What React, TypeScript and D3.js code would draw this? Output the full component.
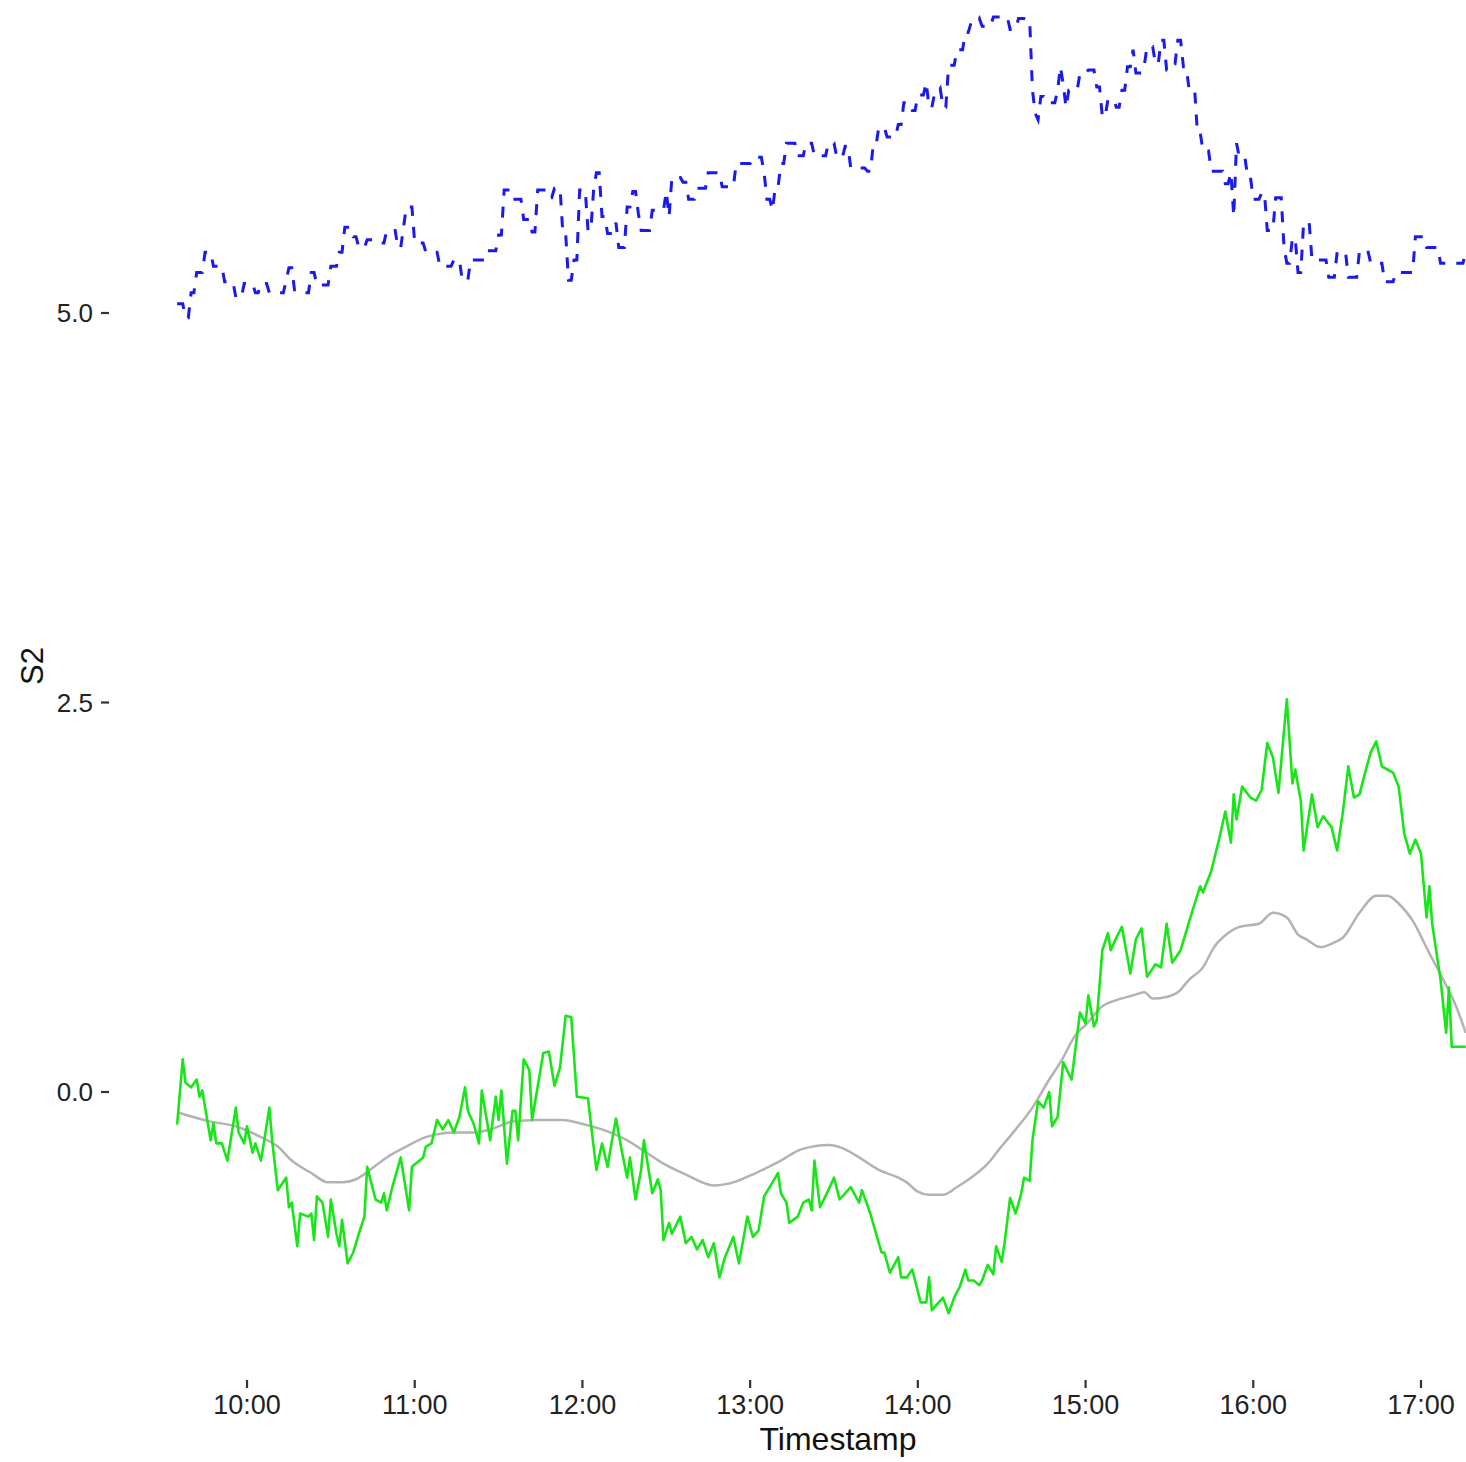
import React, { useEffect, useRef } from "react";
import * as d3 from "d3";

// blue dashed series (time, S2)
const blueSeries: [string, number][] = [
  ["09:35", 5.06], ["09:38", 4.97], ["09:40", 5.13], ["09:42", 5.26], ["09:45", 5.39], ["09:48", 5.3],
  ["09:52", 5.2], ["09:56", 5.1], ["09:59", 5.19], ["10:03", 5.13], ["10:05", 5.19], ["10:08", 5.13],
  ["10:14", 5.21], ["10:15", 5.29], ["10:17", 5.15], ["10:20", 5.13], ["10:23", 5.26], ["10:25", 5.18],
  ["10:30", 5.3], ["10:33", 5.39], ["10:35", 5.55], ["10:38", 5.49], ["10:40", 5.42], ["10:43", 5.47],
  ["10:46", 5.45], ["10:50", 5.53], ["10:54", 5.42], ["10:56", 5.55], ["10:57", 5.68], ["11:00", 5.45],
  ["11:04", 5.39], ["11:09", 5.3], ["11:14", 5.34], ["11:17", 5.21], ["11:20", 5.34], ["11:26", 5.4],
  ["11:30", 5.5], ["11:32", 5.79], ["11:35", 5.73], ["11:39", 5.6], ["11:42", 5.52], ["11:44", 5.79],
  ["11:48", 5.74], ["11:50", 5.8], ["11:53", 5.51], ["11:55", 5.21], ["11:57", 5.34], ["11:59", 5.79],
  ["12:02", 5.53], ["12:04", 5.79], ["12:05", 5.9], ["12:07", 5.62], ["12:09", 5.51], ["12:12", 5.58],
  ["12:13", 5.42], ["12:16", 5.68], ["12:18", 5.78], ["12:20", 5.64], ["12:21", 5.53], ["12:25", 5.66],
  ["12:30", 5.78], ["12:31", 5.62], ["12:32", 5.87], ["12:36", 5.84], ["12:38", 5.73], ["12:41", 5.8],
  ["12:45", 5.9], ["12:50", 5.81], ["12:55", 5.96], ["13:01", 6.0], ["13:05", 5.9], ["13:06", 5.73],
  ["13:08", 5.66], ["13:09", 5.81], ["13:11", 5.96], ["13:13", 6.09], ["13:17", 6.01], ["13:20", 6.09],
  ["13:23", 6.01], ["13:28", 6.09], ["13:31", 6.0], ["13:34", 6.07], ["13:36", 5.93], ["13:42", 5.91],
  ["13:44", 6.07], ["13:46", 6.19], ["13:49", 6.13], ["13:53", 6.21], ["13:55", 6.35], ["13:58", 6.3],
  ["14:00", 6.4], ["14:03", 6.48], ["14:04", 6.32], ["14:06", 6.41], ["14:08", 6.44], ["14:09", 6.32],
  ["14:11", 6.59], ["14:14", 6.69], ["14:17", 6.8], ["14:19", 6.86], ["14:22", 6.89], ["14:23", 6.84],
  ["14:27", 6.9], ["14:33", 6.82], ["14:36", 6.89], ["14:39", 6.88], ["14:41", 6.43], ["14:42", 6.28],
  ["14:43", 6.24], ["14:44", 6.39], ["14:46", 6.35], ["14:50", 6.43], ["14:51", 6.58], ["14:52", 6.47],
  ["14:53", 6.32], ["14:54", 6.43], ["14:58", 6.54], ["15:01", 6.56], ["15:04", 6.45], ["15:06", 6.26],
  ["15:08", 6.37], ["15:11", 6.32], ["15:13", 6.43], ["15:15", 6.58], ["15:17", 6.69], ["15:18", 6.54],
  ["15:21", 6.59], ["15:22", 6.71], ["15:25", 6.6], ["15:27", 6.75], ["15:29", 6.56], ["15:31", 6.6],
  ["15:33", 6.75], ["15:35", 6.58], ["15:37", 6.44], ["15:40", 6.16], ["15:42", 6.04], ["15:45", 5.91],
  ["15:50", 5.83], ["15:52", 5.9], ["15:53", 5.62], ["15:54", 6.09], ["15:55", 6.0], ["15:58", 5.87],
  ["16:00", 5.73], ["16:03", 5.77], ["16:05", 5.53], ["16:08", 5.74], ["16:11", 5.42], ["16:12", 5.32],
  ["16:14", 5.48], ["16:16", 5.26], ["16:18", 5.58], ["16:21", 5.34], ["16:27", 5.23], ["16:30", 5.39],
  ["16:34", 5.23], ["16:38", 5.4], ["16:42", 5.32], ["16:47", 5.2], ["16:51", 5.26], ["16:58", 5.49],
  ["17:02", 5.42], ["17:07", 5.32], ["17:12", 5.32], ["17:16", 5.39],
];

// green noisy series
const greenSeries: [string, number][] = [
  ["09:35", -0.21], ["09:37", 0.21], ["09:38", 0.06], ["09:40", 0.03], ["09:42", 0.08], ["09:43", -0.03],
  ["09:44", 0.01], ["09:47", -0.31], ["09:48", -0.2], ["09:49", -0.33], ["09:51", -0.33], ["09:53", -0.44],
  ["09:56", -0.1], ["09:57", -0.26], ["09:59", -0.33], ["10:00", -0.22], ["10:02", -0.39], ["10:03", -0.33],
  ["10:05", -0.44], ["10:06", -0.33], ["10:08", -0.1], ["10:09", -0.31], ["10:11", -0.63], ["10:14", -0.55],
  ["10:15", -0.74], ["10:16", -0.71], ["10:18", -0.99], ["10:19", -0.78], ["10:22", -0.8], ["10:23", -0.78],
  ["10:24", -0.95], ["10:25", -0.67], ["10:27", -0.71], ["10:29", -0.93], ["10:30", -0.69], ["10:32", -0.91],
  ["10:33", -0.99], ["10:34", -0.82], ["10:36", -1.1], ["10:38", -1.03], ["10:40", -0.91], ["10:42", -0.8],
  ["10:43", -0.48], ["10:46", -0.69], ["10:48", -0.71], ["10:49", -0.65], ["10:50", -0.76], ["10:52", -0.61],
  ["10:55", -0.42], ["10:58", -0.76], ["10:59", -0.48], ["11:03", -0.42], ["11:04", -0.35], ["11:06", -0.33],
  ["11:08", -0.18], ["11:10", -0.24], ["11:12", -0.18], ["11:14", -0.26], ["11:16", -0.16], ["11:18", 0.03],
  ["11:19", -0.12], ["11:21", -0.2], ["11:23", -0.33], ["11:24", 0.01], ["11:27", -0.31], ["11:29", -0.03],
  ["11:30", -0.18], ["11:31", 0.01], ["11:33", -0.46], ["11:35", -0.12], ["11:36", -0.12], ["11:37", -0.31],
  ["11:39", 0.21], ["11:41", 0.14], ["11:42", -0.18], ["11:46", 0.25], ["11:48", 0.26], ["11:50", 0.04],
  ["11:52", 0.16], ["11:54", 0.49], ["11:56", 0.48], ["11:58", -0.03], ["12:02", -0.04], ["12:03", -0.2],
  ["12:05", -0.5], ["12:07", -0.33], ["12:09", -0.48], ["12:10", -0.37], ["12:12", -0.17], ["12:14", -0.37],
  ["12:16", -0.55], ["12:17", -0.42], ["12:19", -0.69], ["12:21", -0.5], ["12:22", -0.31], ["12:25", -0.65],
  ["12:27", -0.56], ["12:28", -0.63], ["12:29", -0.95], ["12:31", -0.84], ["12:32", -0.91], ["12:35", -0.8],
  ["12:37", -0.97], ["12:39", -0.93], ["12:41", -1.01], ["12:43", -0.95], ["12:45", -1.06], ["12:47", -0.97],
  ["12:49", -1.19], ["12:51", -1.06], ["12:54", -0.93], ["12:56", -1.1], ["12:59", -0.8], ["13:01", -0.93],
  ["13:03", -0.89], ["13:05", -0.67], ["13:08", -0.58], ["13:10", -0.52], ["13:11", -0.65], ["13:13", -0.71],
  ["13:14", -0.84], ["13:17", -0.8], ["13:19", -0.71], ["13:21", -0.69], ["13:22", -0.76], ["13:23", -0.44],
  ["13:25", -0.74], ["13:28", -0.63], ["13:30", -0.55], ["13:32", -0.69], ["13:36", -0.61], ["13:39", -0.71],
  ["13:40", -0.63], ["13:43", -0.78], ["13:47", -1.03], ["13:48", -1.03], ["13:50", -1.16], ["13:53", -1.06],
  ["13:54", -1.19], ["13:56", -1.19], ["13:58", -1.14], ["14:01", -1.35], ["14:03", -1.35], ["14:04", -1.19],
  ["14:05", -1.4], ["14:09", -1.32], ["14:11", -1.42], ["14:13", -1.32], ["14:15", -1.25], ["14:17", -1.14],
  ["14:18", -1.21], ["14:20", -1.21], ["14:22", -1.24], ["14:23", -1.21], ["14:25", -1.11], ["14:27", -1.17],
  ["14:28", -0.99], ["14:30", -1.09], ["14:31", -0.97], ["14:33", -0.68], ["14:35", -0.78], ["14:37", -0.65],
  ["14:38", -0.55], ["14:40", -0.57], ["14:41", -0.31], ["14:43", -0.06], ["14:45", -0.1], ["14:47", 0.0],
  ["14:48", -0.22], ["14:50", -0.16], ["14:52", 0.19], ["14:55", 0.08], ["14:58", 0.51], ["15:00", 0.44],
  ["15:01", 0.62], ["15:03", 0.42], ["15:04", 0.46], ["15:06", 0.91], ["15:08", 1.02], ["15:09", 0.91],
  ["15:11", 0.99], ["15:13", 1.06], ["15:16", 0.76], ["15:18", 0.98], ["15:20", 1.05], ["15:22", 0.74],
  ["15:25", 0.82], ["15:27", 0.8], ["15:29", 1.08], ["15:31", 0.83], ["15:34", 0.91], ["15:38", 1.15],
  ["15:41", 1.32], ["15:42", 1.28], ["15:45", 1.42], ["15:48", 1.64], ["15:50", 1.8], ["15:52", 1.6],
  ["15:53", 1.91], ["15:54", 1.75], ["15:56", 1.96], ["15:59", 1.89], ["16:01", 1.87], ["16:03", 1.94],
  ["16:05", 2.24], ["16:07", 2.15], ["16:09", 1.92], ["16:12", 2.52], ["16:14", 1.98], ["16:15", 2.07],
  ["16:17", 1.87], ["16:18", 1.55], ["16:21", 1.91], ["16:23", 1.7], ["16:25", 1.77], ["16:28", 1.7],
  ["16:30", 1.55], ["16:32", 1.79], ["16:34", 2.09], ["16:36", 1.89], ["16:38", 1.91], ["16:40", 2.05],
  ["16:42", 2.18], ["16:44", 2.25], ["16:46", 2.09], ["16:48", 2.07], ["16:50", 2.05], ["16:52", 1.96],
  ["16:54", 1.66], ["16:56", 1.53], ["16:58", 1.62], ["17:00", 1.53], ["17:02", 1.12], ["17:03", 1.32],
  ["17:04", 1.08], ["17:07", 0.72], ["17:09", 0.38], ["17:10", 0.67], ["17:11", 0.29], ["17:16", 0.29],
];

// grey smooth series
const greySeries: [string, number][] = [
  ["09:35", -0.13], ["09:47", -0.19], ["09:56", -0.22], ["10:05", -0.29], ["10:11", -0.35], ["10:16", -0.44],
  ["10:23", -0.52], ["10:29", -0.58], ["10:34", -0.58], ["10:39", -0.56], ["10:44", -0.5], ["10:50", -0.42],
  ["10:57", -0.35], ["11:04", -0.29], ["11:14", -0.26], ["11:21", -0.26], ["11:27", -0.24], ["11:35", -0.19],
  ["11:44", -0.18], ["11:53", -0.18], ["11:59", -0.2], ["12:07", -0.24], ["12:16", -0.31], ["12:23", -0.39],
  ["12:29", -0.46], ["12:37", -0.53], ["12:47", -0.6], ["12:54", -0.58], ["13:02", -0.52], ["13:11", -0.44],
  ["13:18", -0.37], ["13:28", -0.34], ["13:33", -0.36], ["13:39", -0.42], ["13:46", -0.5], ["13:53", -0.55],
  ["13:56", -0.58], ["14:00", -0.64], ["14:04", -0.66], ["14:09", -0.66], ["14:14", -0.61], ["14:19", -0.55],
  ["14:25", -0.46], ["14:29", -0.37], ["14:35", -0.24], ["14:41", -0.1], ["14:47", 0.08], ["14:51", 0.19],
  ["14:57", 0.38], ["15:00", 0.43], ["15:06", 0.55], ["15:11", 0.59], ["15:17", 0.62], ["15:21", 0.64],
  ["15:24", 0.6], ["15:29", 0.61], ["15:33", 0.64], ["15:37", 0.72], ["15:42", 0.8], ["15:46", 0.93],
  ["15:51", 1.02], ["15:55", 1.06], ["16:02", 1.08], ["16:07", 1.15], ["16:12", 1.12], ["16:16", 1.01],
  ["16:19", 0.98], ["16:24", 0.93], ["16:29", 0.96], ["16:32", 0.99], ["16:38", 1.15], ["16:44", 1.26],
  ["16:48", 1.26], ["16:52", 1.21], ["16:57", 1.1], ["17:03", 0.89], ["17:08", 0.72], ["17:13", 0.53],
  ["17:16", 0.38],
];

const yTicks = [0, 2.5, 5];
const xTicks = ["10:00", "11:00", "12:00", "13:00", "14:00", "15:00", "16:00", "17:00"];

const W = 1466;
const H = 1462;
const font = "'Liberation Sans', Arial, Helvetica, sans-serif";

function renderChart(node: SVGSVGElement) {
  const parse = d3.timeParse("%H:%M");
  const svg = d3.select(node);
  svg.selectAll("*").remove();

  const x = d3
    .scaleTime()
    .domain([parse("10:00"), parse("17:00")])
    .range([247, 1421]);
  const y = d3.scaleLinear().domain([0, 5]).range([1092, 313]);

  const line = d3
    .line<[Date, number]>()
    .x((d) => x(d[0]))
    .y((d) => y(d[1]));

  const toDates = (s: [string, number][]) => s.map((d) => [parse(d[0]), d[1]] as [Date, number]);

  // blue is sampled each minute: value holds, then moves to the next level within one minute
  const blueHeld: [Date, number][] = [];
  toDates(blueSeries).forEach((d, i, arr) => {
    if (i > 0) {
      const hold = d3.timeMinute.offset(d[0], -1);
      if (hold > arr[i - 1][0]) blueHeld.push([hold, arr[i - 1][1]]);
    }
    blueHeld.push(d);
  });

  svg
    .append("path")
    .datum(toDates(greySeries))
    .attr("d", line.curve(d3.curveMonotoneX))
    .attr("fill", "none")
    .attr("stroke", "#b3b3b3")
    .attr("stroke-width", 2.5);

  svg
    .append("path")
    .datum(toDates(greenSeries))
    .attr("d", line.curve(d3.curveLinear))
    .attr("fill", "none")
    .attr("stroke", "#19e619")
    .attr("stroke-width", 2.6)
    .attr("stroke-linejoin", "round");

  svg
    .append("path")
    .datum(blueHeld)
    .attr("d", line.curve(d3.curveLinear))
    .attr("fill", "none")
    .attr("stroke", "#1a1aee")
    .attr("stroke-width", 3)
    .attr("stroke-dasharray", "11,11");

  // y axis ticks
  const yAxis = svg.append("g");
  yTicks.forEach((t) => {
    yAxis
      .append("line")
      .attr("x1", 101)
      .attr("x2", 109)
      .attr("y1", y(t))
      .attr("y2", y(t))
      .attr("stroke", "#333")
      .attr("stroke-width", 2.2);
    yAxis
      .append("text")
      .attr("x", 93)
      .attr("y", y(t))
      .attr("dy", "0.36em")
      .attr("text-anchor", "end")
      .attr("font-family", font)
      .attr("font-size", 26)
      .attr("fill", "#222")
      .text(d3.format(".1f")(t));
  });

  // x axis ticks
  const xAxis = svg.append("g");
  xTicks.forEach((t) => {
    const px = x(parse(t));
    xAxis
      .append("line")
      .attr("x1", px)
      .attr("x2", px)
      .attr("y1", 1380)
      .attr("y2", 1388)
      .attr("stroke", "#333")
      .attr("stroke-width", 2.2);
    xAxis
      .append("text")
      .attr("x", px)
      .attr("y", 1414)
      .attr("text-anchor", "middle")
      .attr("font-family", font)
      .attr("font-size", 27)
      .attr("fill", "#222")
      .text(t);
  });

  svg
    .append("text")
    .attr("x", 838)
    .attr("y", 1450)
    .attr("text-anchor", "middle")
    .attr("font-family", font)
    .attr("font-size", 32)
    .attr("fill", "#111")
    .text("Timestamp");

  svg
    .append("text")
    .attr("transform", "translate(43,666) rotate(-90)")
    .attr("text-anchor", "middle")
    .attr("font-family", font)
    .attr("font-size", 31)
    .attr("fill", "#111")
    .text("S2");
}

export default function App() {
  const ref = useRef<SVGSVGElement>(null);
  useEffect(() => {
    if (ref.current) renderChart(ref.current);
  }, []);
  return (
    <svg
      ref={ref}
      width={W}
      height={H}
      style={{ position: "absolute", left: 0, top: 0, background: "#fff" }}
    />
  );
}
